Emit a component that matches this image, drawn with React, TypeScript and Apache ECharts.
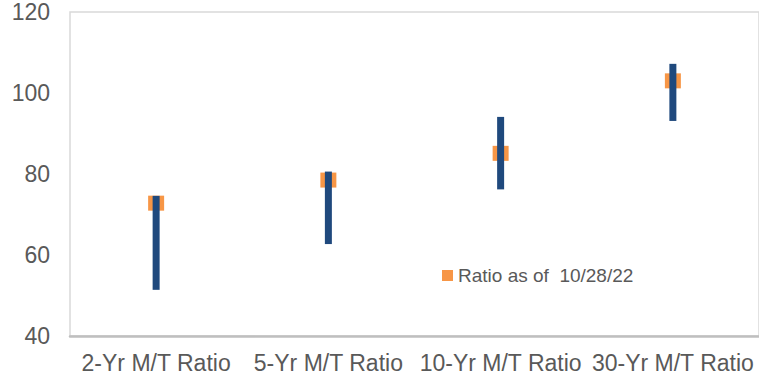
import React, { useEffect, useRef } from "react";
import * as echarts from "echarts";

const categories = ["2-Yr M/T Ratio", "5-Yr M/T Ratio", "10-Yr M/T Ratio", "30-Yr M/T Ratio"];
const rangeLow = [51.4, 62.7, 76.2, 93.1];
const rangeHigh = [74.6, 80.6, 94.1, 107.2];
const currentRatio = [72.8, 78.5, 85.1, 103.0];
const legendLabel = "Ratio as of  10/28/22";
const yTicks = { min: 40, max: 120, interval: 20 };

export default function App() {
  const ref = useRef<HTMLDivElement>(null);
  useEffect(() => {
    if (!ref.current) return;
    const chart = echarts.init(ref.current, undefined, { renderer: "svg" });
    const span = rangeHigh.map((h, i) => +(h - rangeLow[i]).toFixed(2));
    chart.setOption({
      animation: false,
      textStyle: { fontFamily: "Liberation Sans, Arial, sans-serif" },
      grid: {
        left: 70,
        top: 12,
        width: 692,
        height: 324,
        show: true,
        borderColor: "#d9d9d9",
        borderWidth: 1.5,
        backgroundColor: "transparent",
      },
      legend: {
        data: [legendLabel],
        left: 437,
        top: 261,
        icon: "rect",
        itemWidth: 11,
        itemHeight: 11,
        itemGap: 10,
        textStyle: { fontSize: 19, color: "#595959", fontFamily: "Liberation Sans, Arial, sans-serif" },
      },
      xAxis: {
        type: "category",
        data: categories,
        axisLine: { show: true, lineStyle: { color: "#bfbfbf", width: 2.5 } },
        axisTick: { show: false },
        axisLabel: { fontSize: 23, color: "#595959", margin: 15, interval: 0 },
        splitLine: { show: false },
      },
      yAxis: {
        type: "value",
        min: yTicks.min,
        max: yTicks.max,
        interval: yTicks.interval,
        axisLine: { show: false },
        axisTick: { show: false },
        splitLine: { show: false },
        axisLabel: { fontSize: 23, color: "#595959", margin: 20 },
      },
      series: [
        {
          type: "scatter",
          name: legendLabel,
          data: currentRatio,
          symbol: "rect",
          symbolSize: [16, 15],
          itemStyle: { color: "#F79646", opacity: 1 },
          z: 1,
        },
        {
          type: "bar",
          name: "base",
          stack: "range",
          data: rangeLow,
          barWidth: 7,
          itemStyle: { color: "transparent" },
          silent: true,
          z: 2,
        },
        {
          type: "bar",
          name: "range",
          stack: "range",
          data: span,
          barWidth: 7,
          itemStyle: { color: "#1F497D" },
          z: 3,
        },
      ],
    });
    return () => chart.dispose();
  }, []);
  return (
    <div
      ref={ref}
      style={{ position: "absolute", left: 0, top: 0, width: 759, height: 374 }}
    />
  );
}
